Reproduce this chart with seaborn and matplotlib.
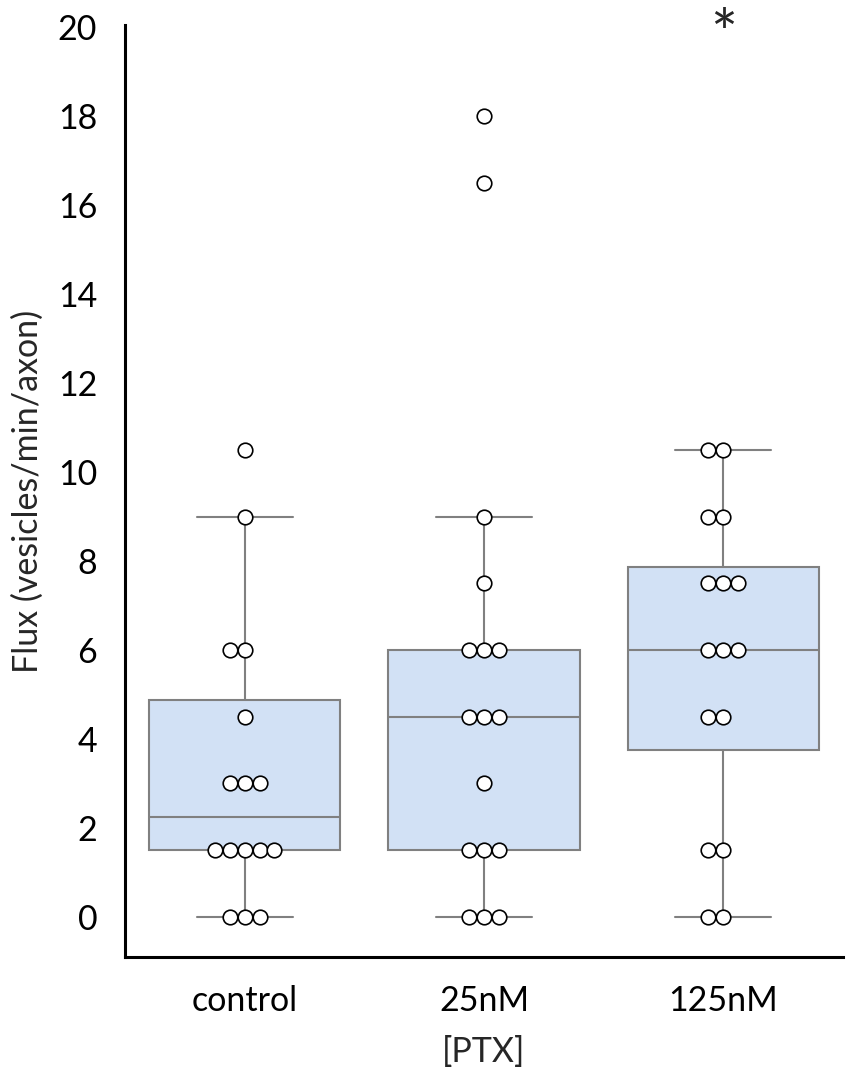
import numpy as np
import pandas as pd
import matplotlib
matplotlib.use("Agg")
import matplotlib.pyplot as plt
import seaborn as sns

# values (vesicles/min/axon)
groups = ["control", "25nM", "125nM"]
control = [0, 0, 0, 1.5, 1.5, 1.5, 1.5, 1.5, 3, 3, 3, 4.5, 6, 6, 9, 10.5]
ptx_25 = [0, 0, 0, 1.5, 1.5, 1.5, 3, 4.5, 4.5, 4.5, 6, 6, 6, 7.5, 9, 16.5, 18]
ptx_125 = [0, 0, 1.5, 1.5, 4.5, 4.5, 6, 6, 6, 7.5, 7.5, 7.5, 9, 9, 10.5, 10.5]
yticks = list(range(0, 21, 2))
star_group = "125nM"

box_color = "#D2E1F5"
line_color = "#808080"

sns.set_style("white")
plt.rcParams["font.family"] = ["Lato", "DejaVu Sans"]

df = pd.DataFrame({
    "group": ["control"] * len(control) + ["25nM"] * len(ptx_25) + ["125nM"] * len(ptx_125),
    "flux": control + ptx_25 + ptx_125,
})
df["group"] = pd.Categorical(df["group"], categories=groups, ordered=True)

# excel-like dot layout: equal values side by side, extra one goes left
step = 0.062
n_same = df.groupby(["group", "flux"], observed=True)["flux"].transform("size")
rank = df.groupby(["group", "flux"], observed=True).cumcount()
df["pos"] = df["group"].cat.codes + (rank - n_same // 2) * step

fig = plt.figure(figsize=(8.51, 10.72), dpi=100)
ax = fig.add_axes([0.1469, 0.1073, 0.8437, 0.8694])

sns.boxplot(data=df, x="group", y="flux", order=groups, color=box_color,
            saturation=1, width=0.8, linecolor=line_color, linewidth=1.5,
            showfliers=False, whis=1.5, ax=ax)
sns.scatterplot(data=df, x="pos", y="flux", color="white", edgecolor="black",
                s=110, linewidth=1.2, zorder=3, legend=False, ax=ax)

ax.set_xlim(-0.5, 2.5)
ax.set_ylim(-0.9, 20.05)
ax.set_xticks(range(len(groups)))
ax.set_xticklabels(groups)
ax.set_yticks(yticks)
ax.tick_params(axis="both", length=0, labelsize=24.5, colors="black", pad=20)
ax.set_xlabel("[PTX]", fontsize=24.5, labelpad=14)
ax.set_ylabel("Flux (vesicles/min/axon)", fontsize=24.5, labelpad=10)

for side in ["top", "right"]:
    ax.spines[side].set_visible(False)
for side in ["left", "bottom"]:
    ax.spines[side].set_color("black")
    ax.spines[side].set_linewidth(2.2)

ax.text(groups.index(star_group), 19.75, "*", ha="center", va="center",
        fontsize=46, clip_on=False)

plt.savefig("out.png", dpi=100)
